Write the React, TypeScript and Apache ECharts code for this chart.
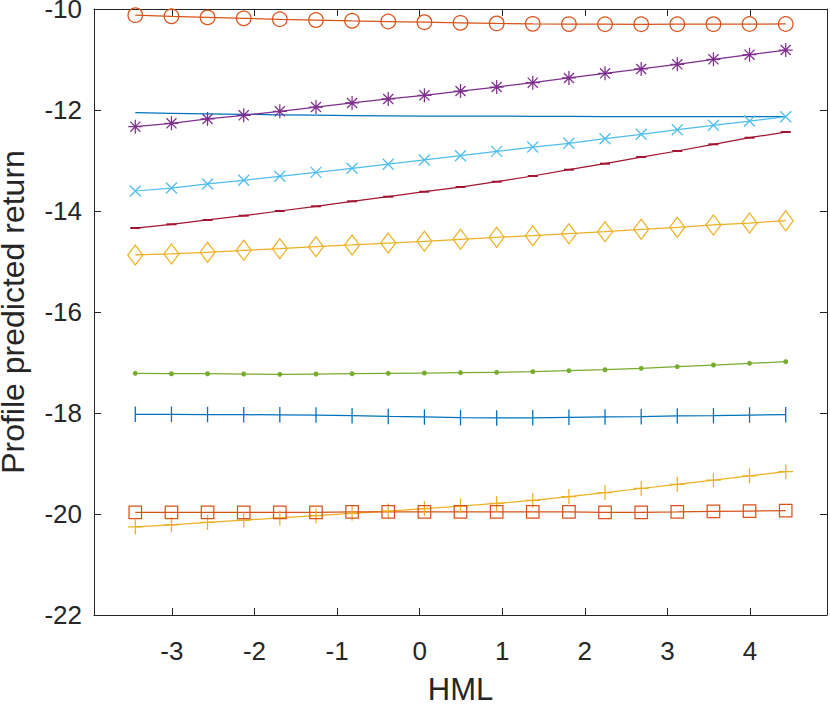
import React, { useEffect, useRef } from "react";
import * as echarts from "echarts";

// HML values (x positions of the markers)
const hml = [
  -3.443, -3.005, -2.568, -2.13, -1.693, -1.255, -0.818, -0.38, 0.058, 0.495,
  0.933, 1.37, 1.808, 2.245, 2.683, 3.12, 3.558, 3.995, 4.433,
];

// Profile predicted return, one array per profile (MATLAB colour/marker order)
const blueLine = [
  -12.053, -12.065, -12.075, -12.085, -12.095, -12.103, -12.109, -12.115, -12.119,
  -12.121, -12.123, -12.125, -12.127, -12.129, -12.129, -12.131, -12.131, -12.133, -12.133,
];
const orangeCircle = [
  -10.122, -10.145, -10.166, -10.185, -10.203, -10.219, -10.234, -10.248, -10.261,
  -10.274, -10.285, -10.294, -10.299, -10.301, -10.302, -10.301, -10.3, -10.298, -10.296,
];
const yellowPlus = [
  -20.257, -20.214, -20.168, -20.123, -20.079, -20.034, -19.986, -19.941, -19.893,
  -19.844, -19.79, -19.729, -19.655, -19.576, -19.495, -19.412, -19.327, -19.244, -19.162,
];
const purpleStar = [
  -12.331, -12.263, -12.178, -12.105, -12.026, -11.941, -11.861, -11.782, -11.709,
  -11.624, -11.545, -11.459, -11.366, -11.273, -11.188, -11.095, -10.996, -10.905, -10.812,
];
const greenDot = [
  -17.214, -17.222, -17.222, -17.228, -17.234, -17.228, -17.222, -17.214, -17.208,
  -17.202, -17.194, -17.182, -17.162, -17.143, -17.115, -17.083, -17.05, -17.016, -16.984,
];
const lightBlueX = [
  -13.604, -13.545, -13.465, -13.392, -13.313, -13.234, -13.154, -13.073, -12.99,
  -12.905, -12.82, -12.733, -12.659, -12.568, -12.481, -12.39, -12.303, -12.218, -12.133,
];
const darkRedDash = [
  -14.337, -14.263, -14.178, -14.093, -14.0, -13.907, -13.808, -13.717, -13.618,
  -13.525, -13.42, -13.307, -13.182, -13.063, -12.931, -12.812, -12.679, -12.549, -12.436,
];
const blueBar = [
  -18.026, -18.026, -18.03, -18.034, -18.036, -18.042, -18.053, -18.069, -18.079,
  -18.091, -18.099, -18.095, -18.085, -18.079, -18.073, -18.059, -18.053, -18.04, -18.034,
];
const orangeSquare = [
  -19.966, -19.97, -19.97, -19.97, -19.97, -19.97, -19.96, -19.96, -19.96,
  -19.96, -19.96, -19.96, -19.96, -19.966, -19.966, -19.96, -19.946, -19.941, -19.935,
];
const yellowDiamond = [
  -14.871, -14.851, -14.818, -14.778, -14.747, -14.707, -14.673, -14.634, -14.6,
  -14.56, -14.521, -14.489, -14.45, -14.41, -14.362, -14.323, -14.277, -14.238, -14.192,
];

const X_MIN = -3.943;
const X_MAX = 4.933;
const Y_MIN = -22;
const Y_MAX = -10;
const Y_STEP = 2;

const xName = "HML";
const yName = "Profile predicted return";

export default function App() {
  const ref = useRef<HTMLDivElement>(null);

  useEffect(() => {
    document.body.style.margin = "0";
    const chart = echarts.init(ref.current as HTMLDivElement, null, { renderer: "svg" });
    const font = "'Liberation Sans', Arial, Helvetica, sans-serif";
    const axisColor = "#262626";
    const lw = 1.25;

    const pair = (ys: number[]) => hml.map((x, i) => [x, ys[i]]);

    const mk = (
      ys: number[],
      color: string,
      symbol: string,
      size: number | number[],
      filled: boolean
    ) => ({
      type: "line",
      data: pair(ys),
      symbol,
      symbolSize: size,
      showSymbol: symbol !== "none",
      showAllSymbol: true,
      silent: true,
      lineStyle: { color, width: lw },
      itemStyle: filled
        ? { color, borderWidth: 0 }
        : { color: "rgba(0,0,0,0)", borderColor: color, borderWidth: lw },
      emphasis: { disabled: true },
      z: 2,
    });

    const starPath =
      "path://M0,-1L0,1M-1,0L1,0M-0.72,-0.72L0.72,0.72M-0.72,0.72L0.72,-0.72";
    const xPath = "path://M-1,-1L1,1M-1,1L1,-1";
    const plusPath = "path://M0,-1L0,1M-1,0L1,0";

    const xAxisBase = {
      type: "value",
      min: X_MIN,
      max: X_MAX,
      splitNumber: 9,
      axisLine: { show: true, onZero: false, lineStyle: { color: axisColor, width: 1 } },
      axisTick: { show: true, inside: true, length: 7, lineStyle: { color: axisColor, width: 1 } },
      splitLine: { show: false },
    };
    const yAxisBase = {
      type: "value",
      min: Y_MIN,
      max: Y_MAX,
      interval: Y_STEP,
      axisLine: { show: true, onZero: false, lineStyle: { color: axisColor, width: 1 } },
      axisTick: { show: true, inside: true, length: 7, lineStyle: { color: axisColor, width: 1 } },
      splitLine: { show: false },
    };

    chart.setOption({
      animation: false,
      backgroundColor: "#ffffff",
      grid: {
        left: 94,
        right: 3,
        top: 9,
        bottom: 89,
        containLabel: false,
        outerBoundsMode: "none",
      },
      xAxis: [
        {
          ...xAxisBase,
          position: "bottom",
          name: xName,
          nameLocation: "middle",
          nameGap: 59,
          nameTextStyle: { fontFamily: font, fontSize: 31, color: axisColor },
          axisLabel: {
            show: true,
            margin: 23,
            fontFamily: font,
            fontSize: 26,
            color: axisColor,
            showMinLabel: false,
            showMaxLabel: false,
          },
        },
        {
          ...xAxisBase,
          position: "top",
          axisLabel: { show: false },
        },
      ],
      yAxis: [
        {
          ...yAxisBase,
          position: "left",
          name: yName,
          nameLocation: "middle",
          nameRotate: 90,
          nameGap: 65,
          nameTextStyle: { fontFamily: font, fontSize: 32, color: axisColor },
          axisLabel: {
            show: true,
            margin: 12,
            fontFamily: font,
            fontSize: 26,
            color: axisColor,
            padding: [7, 0, 0, 0],
          },
        },
        {
          ...yAxisBase,
          position: "right",
          axisLabel: { show: false },
        },
      ],
      series: [
        mk(blueLine, "#0072BD", "none", 0, true),
        mk(orangeCircle, "#D95319", "circle", 14.5, false),
        mk(yellowPlus, "#EDB120", plusPath, 15, false),
        mk(purpleStar, "#7E2F8E", starPath, 14, false),
        mk(greenDot, "#77AC30", "circle", 5, true),
        mk(lightBlueX, "#4DBEEE", xPath, 11, false),
        mk(darkRedDash, "#A2142F", "rect", [10, 2], true),
        mk(blueBar, "#0072BD", "rect", [1.3, 15.5], true),
        mk(orangeSquare, "#D95319", "rect", 12.5, false),
        mk(yellowDiamond, "#EDB120", "diamond", [15, 20], false),
      ],
    });

    return () => chart.dispose();
  }, []);

  return <div ref={ref} style={{ width: 830, height: 704 }} />;
}
